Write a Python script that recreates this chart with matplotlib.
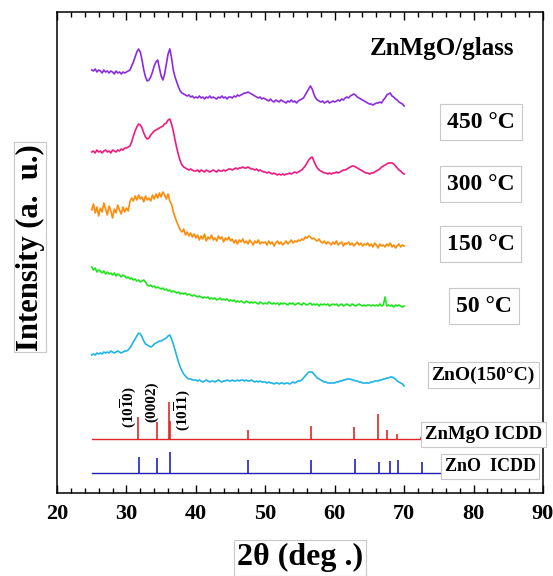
import numpy as np
import matplotlib.pyplot as plt

plt.rcParams['font.family'] = ['Liberation Serif', 'DejaVu Serif']
plt.rcParams['font.weight'] = 'bold'
plt.rcParams['mathtext.fontset'] = 'custom'
plt.rcParams['mathtext.rm'] = 'Liberation Serif:bold'
plt.rcParams['mathtext.bf'] = 'Liberation Serif:bold'

# 2theta sampling of the measured patterns (deg), 0.25 deg step
two_theta = np.arange(25, 70.001, 0.25)

# intensities (a.u.), one row = 5 deg
znmgo_450 = [36, 35, 37, 34, 36, 35, 33, 36, 34, 35, 33, 35, 34, 32, 35, 33, 34, 32, 34, 33,
             34, 35, 36, 40, 44, 49, 54, 57, 54, 46, 36, 29, 25, 26, 29, 34, 40, 44, 46, 38,
             30, 26, 32, 42, 52, 57, 48, 36, 29, 24, 19, 15, 13, 12, 11, 10, 11, 9, 10, 8,
             9, 8, 10, 8, 9, 7, 9, 8, 10, 8, 9, 8, 7, 9, 8, 10, 8, 9, 7, 9,
             9, 8, 10, 9, 11, 10, 11, 12, 13, 13, 14, 13, 12, 11, 10, 9, 8, 9, 7, 8,
             7, 6, 5, 7, 5, 4, 6, 5, 4, 6, 5, 4, 3, 5, 4, 6, 4, 5, 3, 5,
             6, 7, 8, 11, 14, 17, 20, 17, 12, 8, 6, 5, 4, 5, 3, 4, 5, 3, 4, 5,
             4, 5, 6, 5, 7, 6, 8, 9, 8, 10, 11, 12, 11, 9, 8, 7, 6, 5, 4, 3,
             2, 2, 1, 2, 3, 3, 4, 3, 6, 8, 11, 12, 13, 10, 9, 7, 6, 4, 3, 2,
             0]
znmgo_300 = [23, 24, 22, 25, 23, 24, 22, 24, 25, 23, 24, 22, 25, 24, 23, 25, 24, 26, 25, 27,
             27, 28, 29, 33, 39, 44, 48, 51, 50, 47, 42, 38, 36, 37, 40, 42, 44, 45, 46, 47,
             48, 49, 51, 52, 55, 56, 51, 44, 35, 27, 20, 14, 10, 8, 7, 6, 5, 6, 5, 4,
             4, 5, 3, 5, 4, 3, 5, 4, 3, 4, 5, 4, 3, 5, 4, 4, 5, 4, 5, 6,
             6, 5, 6, 7, 6, 7, 7, 8, 7, 7, 8, 7, 6, 6, 5, 6, 4, 5, 4, 3,
             3, 2, 3, 2, 1, 2, 1, 0, 1, 0, 1, 0, 1, 1, 2, 1, 2, 3, 2, 3,
             4, 5, 7, 9, 12, 15, 17, 18, 14, 10, 7, 5, 4, 3, 2, 2, 1, 2, 1, 2,
             2, 3, 2, 3, 4, 5, 5, 6, 7, 8, 9, 9, 8, 7, 6, 5, 4, 3, 2, 2,
             1, 2, 2, 3, 4, 5, 6, 8, 9, 10, 11, 12, 12, 12, 11, 9, 7, 5, 4, 2,
             1]
znmgo_150 = [38, 44, 35, 41, 32, 40, 36, 45, 39, 33, 42, 37, 30, 39, 35, 43, 38, 34, 41, 36,
             40, 37, 46, 50, 47, 52, 48, 53, 49, 51, 46, 52, 48, 50, 47, 53, 49, 54, 50, 55,
             51, 56, 53, 49, 54, 47, 44, 36, 31, 26, 22, 18, 16, 19, 13, 16, 12, 15, 11, 14,
             10, 13, 8, 12, 9, 14, 7, 11, 9, 13, 8, 10, 7, 12, 9, 11, 6, 10, 8, 11,
             7, 9, 5, 8, 4, 8, 6, 9, 5, 7, 4, 8, 6, 3, 7, 5, 8, 4, 6, 5,
             6, 3, 7, 4, 6, 2, 5, 7, 4, 6, 3, 5, 7, 4, 6, 8, 5, 7, 6, 8,
             7, 9, 8, 11, 10, 12, 11, 9, 10, 8, 7, 9, 6, 5, 7, 4, 6, 5, 3, 6,
             4, 7, 3, 5, 6, 2, 5, 4, 6, 3, 5, 2, 4, 6, 3, 5, 2, 4, 3, 5,
             2, 4, 1, 5, 3, 0, 4, 2, 3, 1, 4, 2, 5, 1, 3, 0, 2, 4, 1, 3,
             2]
znmgo_50 = [40, 37, 39, 35, 37, 36, 34, 36, 33, 35, 33, 34, 32, 34, 31, 33, 32, 30, 32, 31,
            29, 30, 28, 29, 27, 28, 26, 27, 25, 26, 27, 25, 22, 21, 22, 20, 21, 19, 20, 19,
            18, 19, 17, 18, 16, 17, 15, 16, 15, 14, 15, 13, 14, 13, 14, 12, 13, 12, 11, 12,
            11, 10, 11, 10, 9, 10, 9, 10, 8, 9, 8, 9, 7, 8, 9, 7, 8, 7, 8, 6,
            7, 6, 7, 5, 6, 5, 6, 5, 4, 6, 5, 4, 5, 4, 5, 4, 3, 5, 4, 3,
            4, 3, 5, 4, 3, 4, 3, 4, 2, 4, 3, 4, 3, 2, 4, 3, 4, 2, 3, 4,
            3, 2, 4, 3, 2, 3, 4, 2, 3, 2, 3, 1, 3, 2, 3, 2, 3, 1, 2, 3,
            2, 3, 1, 2, 3, 1, 2, 3, 2, 1, 3, 2, 1, 2, 3, 2, 1, 2, 1, 2,
            2, 1, 2, 1, 2, 1, 3, 1, 2, 10, 1, 2, 1, 2, 0, 2, 1, 2, 1, 0,
            1]
zno_150 = [31, 32, 31, 33, 32, 33, 32, 34, 33, 34, 33, 35, 34, 33, 34, 35, 34, 33, 34, 35,
           35, 36, 38, 41, 44, 47, 50, 53, 52, 49, 45, 42, 41, 40, 39, 40, 42, 43, 44, 45,
           45, 46, 47, 48, 50, 51, 47, 42, 36, 30, 24, 19, 15, 12, 10, 8, 7, 7, 6, 6,
           6, 5, 6, 5, 4, 5, 6, 5, 4, 5, 5, 4, 5, 6, 5, 4, 5, 5, 6, 5,
           5, 6, 5, 5, 6, 5, 6, 6, 5, 6, 5, 5, 6, 5, 4, 5, 4, 5, 4, 4,
           4, 3, 4, 3, 3, 2, 3, 3, 2, 3, 3, 2, 3, 3, 2, 3, 4, 3, 4, 5,
           5, 6, 8, 10, 12, 14, 14, 14, 12, 10, 8, 7, 6, 5, 4, 4, 3, 3, 3, 3,
           3, 4, 4, 5, 5, 6, 6, 7, 7, 7, 6, 6, 5, 5, 4, 4, 3, 3, 3, 3,
           3, 4, 4, 5, 5, 5, 6, 6, 7, 7, 8, 8, 9, 9, 8, 7, 5, 4, 3, 2,
           0]

# reference patterns (ICDD): peak positions and relative heights
znmgo_icdd_pos = [31.65, 34.45, 36.1, 36.3, 47.55, 56.55, 62.75, 66.2, 67.6, 68.9, 72.4]
znmgo_icdd_int = [22, 17, 37, 18, 9, 13, 12, 25, 9, 5, 2]
zno_icdd_pos = [31.77, 34.42, 36.25, 47.54, 56.60, 62.86, 66.38, 67.96, 69.10, 72.56]
zno_icdd_int = [16, 15, 21, 13, 13, 14, 11, 12, 13, 11]

labels = ['450 \u00b0C', '300 \u00b0C', '150 \u00b0C', '50 \u00b0C', 'ZnO(150\u00b0C)']
colors = ['#8a2be2', '#f0197d', '#ff8c0a', '#1ee61e', '#1eb4e8']
offsets = [387, 318, 245, 186, 107]
label_xy = [(81.1, 371), (81.0, 309), (81.0, 249), (81.5, 187), (81.4, 118)]
label_size = [17, 17, 17, 17, 14]

fig = plt.figure(figsize=(5.53, 5.76), dpi=100)
ax = fig.add_axes([57 / 553, 83 / 576, 486 / 553, 481 / 576])

box = dict(boxstyle='square,pad=0.3', fc='white', ec='#c8c8c8', lw=0.8)
box_small = dict(boxstyle='square,pad=0.2', fc='white', ec='#c8c8c8', lw=0.8)

series = [znmgo_450, znmgo_300, znmgo_150, znmgo_50, zno_150]
for ys, c, off, lab, (lx, ly), fs in zip(series, colors, offsets, labels, label_xy, label_size):
    ax.plot(two_theta, np.array(ys) + off, color=c, lw=1.2)
    ax.text(lx, ly, lab, fontsize=fs, fontweight='bold', ha='center', va='center',
            bbox=box if fs > 15 else box_small)

# ICDD stick patterns
base_mg, base_zn = 54, 20
ax.plot([25, 74], [base_mg, base_mg], color='#e02828', lw=1.0)
ax.vlines(znmgo_icdd_pos, base_mg, base_mg + np.array(znmgo_icdd_int), color='#e02828', lw=1.2)
ax.plot([25, 76], [base_zn, base_zn], color='#2020b0', lw=1.0)
ax.vlines(zno_icdd_pos, base_zn, base_zn + np.array(zno_icdd_int), color='#2020c8', lw=1.2)
ax.text(81.4, 58.5, 'ZnMgO ICDD', fontsize=13.5, fontweight='bold', ha='center', va='center', bbox=box_small)
ax.text(82.4, 26.5, 'ZnO  ICDD', fontsize=13, fontweight='bold', ha='center', va='center', bbox=box_small)

# Miller indices
ax.text(30.4, 86, r'(10$\overline{1}$0)', fontsize=11, rotation=90, ha='center', va='center')
ax.text(33.6, 91, '(0002)', fontsize=11, rotation=90, ha='center', va='center')
ax.text(38.2, 83, r'(10$\overline{1}$1)', fontsize=11, rotation=90, ha='center', va='center')

ax.text(75.5, 445, 'ZnMgO/glass', fontsize=18, fontweight='bold', ha='center', va='center')

ax.set_xlim(20, 90)
ax.set_ylim(0, 481)
ax.set_xticks(range(20, 91, 10))
ax.set_xticks(range(20, 91, 2), minor=True)
ax.set_yticks([])
ax.tick_params(axis='x', which='both', direction='in', top=True, labelsize=16, pad=8)
ax.tick_params(axis='x', which='major', length=6, width=1)
ax.tick_params(axis='x', which='minor', length=3.5, width=1)
for lab in ax.get_xticklabels():
    lab.set_fontweight('bold')
for sp in ax.spines.values():
    sp.set_linewidth(1.1)

ax.text(-0.055, 0.511, 'Intensity (a.  u.)', transform=ax.transAxes, fontsize=22,
        fontweight='bold', rotation=90, ha='center', va='center',
        bbox=dict(boxstyle='square,pad=0.05', fc='white', ec='#c8c8c8', lw=0.8))
ax.text(0.5, -0.135, '2\u03b8 (deg .)', transform=ax.transAxes, fontsize=23,
        fontweight='bold', ha='center', va='center',
        bbox=dict(boxstyle='square,pad=0.1', fc='white', ec='#c8c8c8', lw=0.8))

fig.savefig('out.png', dpi=100)
